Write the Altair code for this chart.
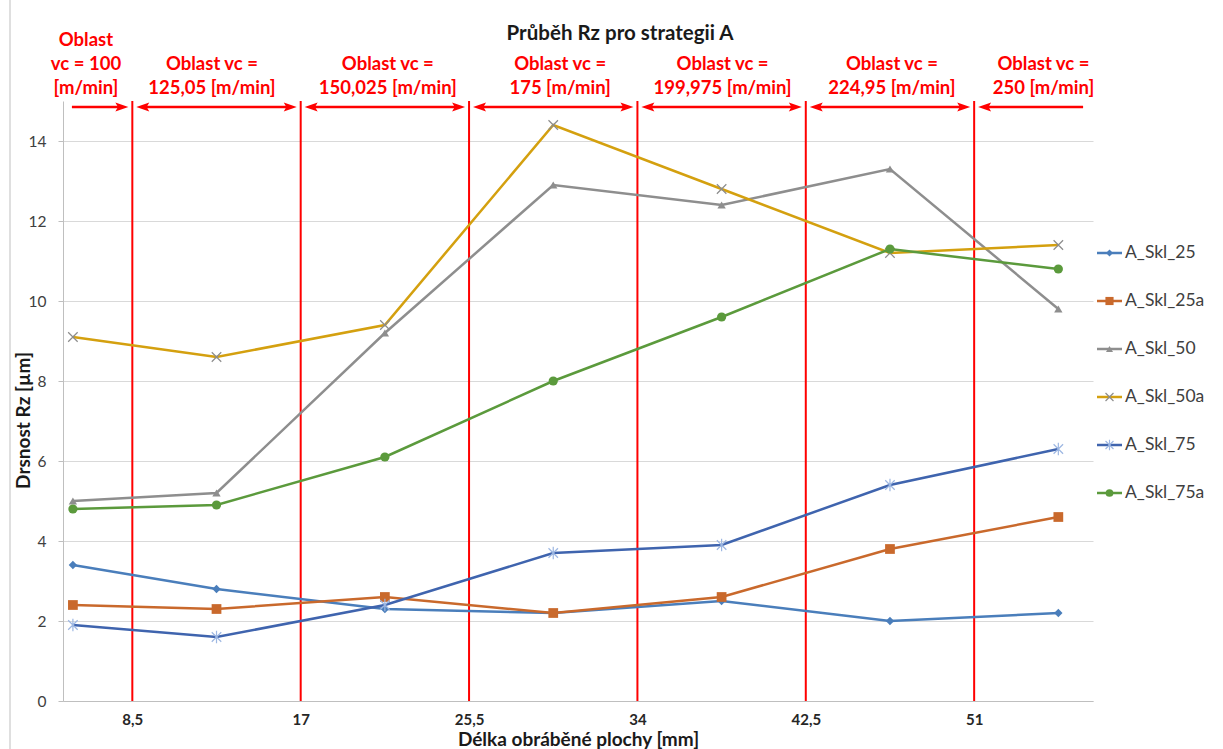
import altair as alt
import pandas as pd

# Measured surface length positions [mm] and roughness series Rz [µm]
x_pos = [5.5, 12.75, 21.25, 29.75, 38.25, 46.75, 55.25]
series_names = ["A_Skl_25", "A_Skl_25a", "A_Skl_50", "A_Skl_50a", "A_Skl_75", "A_Skl_75a"]
a_skl_25 = [3.4, 2.8, 2.3, 2.2, 2.5, 2.0, 2.2]
a_skl_25a = [2.4, 2.3, 2.6, 2.2, 2.6, 3.8, 4.6]
a_skl_50 = [5.0, 5.2, 9.2, 12.9, 12.4, 13.3, 9.8]
a_skl_50a = [9.1, 8.6, 9.4, 14.4, 12.8, 11.2, 11.4]
a_skl_75 = [1.9, 1.6, 2.4, 3.7, 3.9, 5.4, 6.3]
a_skl_75a = [4.8, 4.9, 6.1, 8.0, 9.6, 11.3, 10.8]
series_values = [a_skl_25, a_skl_25a, a_skl_50, a_skl_50a, a_skl_75, a_skl_75a]

# Cutting-speed regions along the surface
region_bounds = [8.5, 17, 25.5, 34, 42.5, 51]
region_edges = [5.45] + region_bounds + [56.5]
region_label_x = [6.16, 12.52, 21.4, 30.1, 38.3, 46.85, 54.5]
region_labels = [
    ["Oblast", "vc = 100", "[m/min]"],
    ["Oblast vc =", "125,05 [m/min]"],
    ["Oblast vc =", "150,025 [m/min]"],
    ["Oblast vc =", "175 [m/min]"],
    ["Oblast vc =", "199,975 [m/min]"],
    ["Oblast vc =", "224,95 [m/min]"],
    ["Oblast vc =", "250 [m/min]"],
]

# Styling
FONT = "Lato"
RED = "#FF0000"
X_PATH = "M-1,-1L1,1M-1,1L1,-1"
STAR_PATH = "M-1,-1L1,1M-1,1L1,-1M0,-1.3L0,1.3"
ARROW_HEAD = "M0,0L-2,-0.7L-1.6,0L-2,0.7Z"
styles = [
    dict(color="#4A7EBB", shape="diamond", size=70, filled=True, mcolor="#4A7EBB"),
    dict(color="#C9692C", shape="square", size=95, filled=True, mcolor="#C9692C"),
    dict(color="#8E8E8E", shape="triangle-up", size=70, filled=True, mcolor="#8E8E8E"),
    dict(color="#D4A00F", shape=X_PATH, size=90, filled=False, mcolor="#8C8C8C"),
    dict(color="#3F64AE", shape=STAR_PATH, size=90, filled=False, mcolor="#9DB7E2"),
    dict(color="#5B9A3C", shape="circle", size=85, filled=True, mcolor="#5B9A3C"),
]

W, H = 1030, 600
x_scale = alt.Scale(domain=[5, 57], nice=False, zero=False)
y_scale = alt.Scale(domain=[0, 15], nice=False)

x_axis = alt.Axis(
    values=region_bounds,
    labelExpr="replace(toString(datum.value), '.', ',')",
    labelFont=FONT, labelFontSize=15, labelFontWeight="bold", labelColor="#262626",
    labelPadding=11, ticks=False, grid=False, domainColor="#BFBFBF",
    title="Délka obráběné plochy [mm]", titleFont=FONT, titleFontSize=19,
    titleFontWeight="bold", titleColor="#1A1A1A",
    titleX=515, titleY=48, titleAlign="center", titleBaseline="bottom",
)
y_axis = alt.Axis(
    values=[0, 2, 4, 6, 8, 10, 12, 14],
    labelFont=FONT, labelFontSize=15.5, labelColor="#404040", labelPadding=12,
    tickSize=5, tickColor="#BFBFBF", domainColor="#BFBFBF",
    gridColor="#D9D9D9", grid=True,
    title="Drsnost Rz [µm]", titleFont=FONT, titleFontSize=19,
    titleFontWeight="bold", titleColor="#1A1A1A",
    titleX=-30, titleY=319, titleAlign="center", titleBaseline="bottom", titleAngle=-90,
)

layers = []

# Red boundaries of the speed regions
bounds_df = pd.DataFrame({"x": region_bounds})
layers.append(
    alt.Chart(bounds_df).mark_rule(color=RED, strokeWidth=2).encode(
        x=alt.X("x:Q", scale=x_scale, axis=x_axis),
        y=alt.value(0), y2=alt.value(H),
    )
)

# Data series: lines with markers
for name, vals, st in zip(series_names, series_values, styles):
    df = pd.DataFrame({"x": x_pos, "y": vals, "series": name})
    enc = dict(
        x=alt.X("x:Q", scale=x_scale, axis=x_axis),
        y=alt.Y("y:Q", scale=y_scale, axis=y_axis),
    )
    layers.append(alt.Chart(df).mark_line(color=st["color"], strokeWidth=2.5).encode(**enc))
    if st["filled"]:
        pt = alt.Chart(df).mark_point(shape=st["shape"], size=st["size"], filled=True,
                                      color=st["mcolor"], opacity=1)
    else:
        pt = alt.Chart(df).mark_point(shape=st["shape"], size=st["size"], filled=False,
                                      stroke=st["mcolor"], strokeWidth=1.2, opacity=1)
    layers.append(pt.encode(**enc))

# Region arrows
gap = 0.2
rows, right_heads, left_heads = [], [], []
n_regions = len(region_edges) - 1
for i in range(n_regions):
    x1 = region_edges[i] + (gap if i > 0 else 0)
    x2 = region_edges[i + 1] - (gap if i < n_regions - 1 else 0)
    rows.append({"x1": x1 + (0.3 if i > 0 else 0), "x2": x2 - (0.3 if i < n_regions - 1 else 0)})
    if i < n_regions - 1:
        right_heads.append({"x": x2})
    if i > 0:
        left_heads.append({"x": x1})
arrow_y = 6
layers.append(
    alt.Chart(pd.DataFrame(rows)).mark_rule(color=RED, strokeWidth=2.5).encode(
        x=alt.X("x1:Q", scale=x_scale, axis=x_axis), x2="x2:Q", y=alt.value(arrow_y)
    )
)
for heads, ang in ((right_heads, 0), (left_heads, 180)):
    layers.append(
        alt.Chart(pd.DataFrame(heads)).mark_point(
            shape=ARROW_HEAD, size=169, filled=True, color=RED, opacity=1, angle=ang
        ).encode(x=alt.X("x:Q", scale=x_scale, axis=x_axis), y=alt.value(arrow_y))
    )

# Region labels, one layer per text line counted from the bottom
line_rows = []
for cx, lines in zip(region_label_x, region_labels):
    for k, txt in enumerate(reversed(lines)):
        line_rows.append({"x": cx, "k": k, "t": txt})
lines_df = pd.DataFrame(line_rows)
for k, yy in enumerate([-13, -37, -61]):
    layers.append(
        alt.Chart(lines_df[lines_df["k"] == k]).mark_text(
            font=FONT, fontSize=18.5, fontWeight="bold", color=RED, align="center", baseline="middle"
        ).encode(x=alt.X("x:Q", scale=x_scale, axis=x_axis), y=alt.value(yy), text="t:N")
    )

# Chart title
layers.append(
    alt.Chart(pd.DataFrame({"t": ["Průběh Rz pro strategii A"]})).mark_text(
        font=FONT, fontSize=20.5, fontWeight="bold", color="#1A1A1A", align="center", baseline="middle"
    ).encode(x=alt.value(557), y=alt.value(-67), text="t:N")
)

# Legend: line sample, marker and series name per row
for i, (name, st) in enumerate(zip(series_names, styles)):
    ly = 152 + 48 * i
    one = pd.DataFrame({"t": [name]})
    layers.append(
        alt.Chart(one).mark_rule(color=st["color"], strokeWidth=2.5).encode(
            x=alt.value(1034), x2=alt.value(1059), y=alt.value(ly)
        )
    )
    if st["filled"]:
        m = alt.Chart(one).mark_point(shape=st["shape"], size=st["size"] * 0.7, filled=True,
                                      color=st["mcolor"], opacity=1)
    else:
        m = alt.Chart(one).mark_point(shape=st["shape"], size=st["size"] * 0.7, filled=False,
                                      stroke=st["mcolor"], strokeWidth=1.2, opacity=1)
    layers.append(m.encode(x=alt.value(1046.5), y=alt.value(ly)))
    layers.append(
        alt.Chart(one).mark_text(font=FONT, fontSize=17.5, color="#404040", align="left",
                                 baseline="middle").encode(
            x=alt.value(1062), y=alt.value(ly), text="t:N"
        )
    )

# Outer frame line on the left
layers.append(
    alt.Chart(pd.DataFrame({"t": [0]})).mark_rule(color="#BFBFBF", strokeWidth=1).encode(
        x=alt.value(-53), y=alt.value(-101), y2=alt.value(648)
    )
)

chart = alt.layer(*layers).properties(
    width=W, height=H,
    autosize=alt.AutoSizeParams(type="none"),
    padding={"left": 63, "top": 101, "right": 130, "bottom": 48},
    background="white",
).configure_view(stroke=None)

chart.save("out.html", embed_options={"renderer": "svg", "actions": False})
